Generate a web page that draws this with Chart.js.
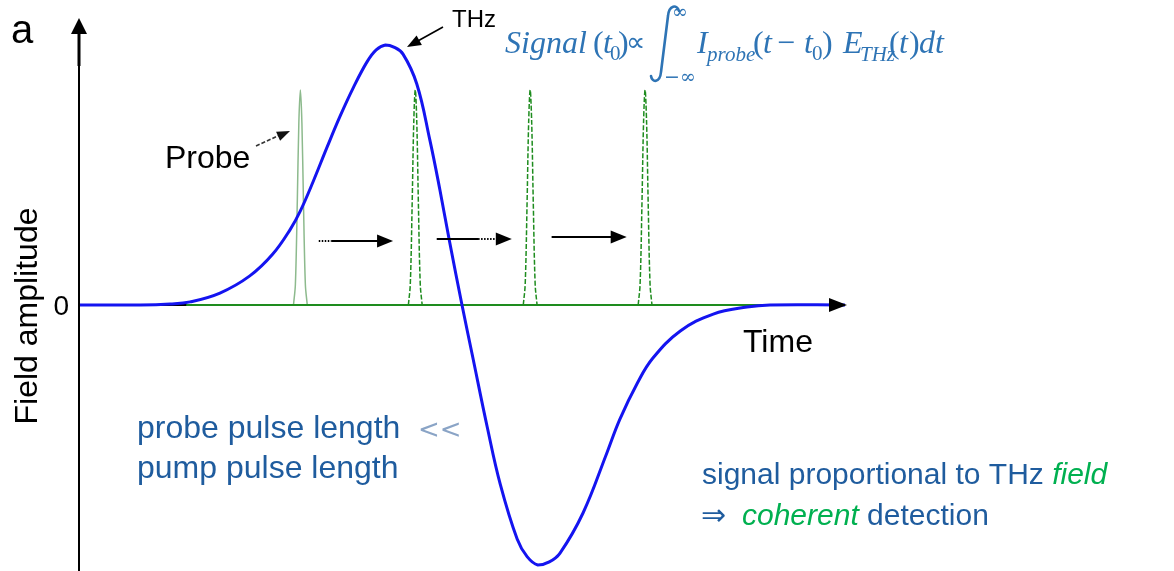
<!DOCTYPE html>
<html>
<head>
<meta charset="utf-8">
<script src="https://cdn.jsdelivr.net/npm/chart.js@4.4.1/dist/chart.umd.min.js"></script>
<style>
html,body{margin:0;padding:0;background:#fff;}
#wrap{width:1174px;height:571px;position:relative;}
</style>
</head>
<body>
<div id="wrap"><canvas id="c" width="1174" height="571"></canvas></div>
<script>
// ---- data (time in arbitrary units, field normalised to THz peak) ----
const thzTime  = [0, 0.80, 1.19, 1.45, 1.84, 2.23, 2.53, 2.76, 2.89, 3.06, 3.24, 3.41, 3.58, 3.76, 3.88, 4.00, 4.11, 4.23, 4.41, 4.58, 4.71, 4.84, 5.00, 5.14, 5.33, 5.50, 5.72, 5.85, 5.99, 6.14, 6.28, 6.58, 6.89, 7.06, 7.29, 7.49, 7.85, 8.28, 8.72, 9.02, 10.0];
const thzField = [0, 0, 0.004, 0.012, 0.046, 0.112, 0.196, 0.292, 0.362, 0.477, 0.608, 0.727, 0.835, 0.935, 0.981, 1.0, 0.992, 0.965, 0.850, 0.635, 0.445, 0.240, 0, -0.20, -0.47, -0.69, -0.90, -0.968, -1.0, -0.988, -0.954, -0.80, -0.57, -0.44, -0.30, -0.205, -0.10, -0.035, -0.008, 0, 0];
const probeCenters = [2.89, 4.39, 5.89, 7.39];
const probeOffsets = [-0.09, -0.065, -0.04, -0.02, 0, 0.02, 0.04, 0.065, 0.09];
const probeShape   = [0, 0.08, 0.40, 0.70, 0.827, 0.70, 0.40, 0.08, 0];
const baselineTime = [1.40, 8.90];
const yTickLabels  = ['0'];
const xAxisLabel = 'Time';
const yAxisLabel = 'Field amplitude';

// ---- build datasets ----
const thzPts = thzTime.map((t, i) => ({x: t, y: thzField[i]}));
const probeSets = probeCenters.map((c, k) => ({
  data: probeOffsets.map((o, i) => ({x: +(c + o).toFixed(3), y: probeShape[i]})),
  borderColor: k === 0 ? '#8dba8d' : '#1e8c1e',
  borderWidth: 1.5,
  borderDash: k === 0 ? [] : [5, 2],
  pointRadius: 0, tension: 0.35, order: 2, clip: false
}));

const datasets = [
  {data: thzPts, borderColor: '#1414f0', borderWidth: 3, pointRadius: 0,
   tension: 0.4, order: 0, clip: false},
  {data: baselineTime.map(t => ({x: t, y: 0})), borderColor: '#1e8c1e', borderWidth: 2,
   pointRadius: 0, order: 1, clip: false},
  ...probeSets
];

function head(ctx, tx, ty, ang, len, hw) {
  ctx.save();
  ctx.translate(tx, ty); ctx.rotate(ang);
  ctx.beginPath(); ctx.moveTo(0, 0); ctx.lineTo(-len, -hw); ctx.lineTo(-len, hw); ctx.closePath();
  ctx.fill(); ctx.restore();
}
function seg(ctx, x1, y1, x2, y2, dash) {
  ctx.save(); ctx.setLineDash(dash || []);
  ctx.beginPath(); ctx.moveTo(x1, y1); ctx.lineTo(x2, y2); ctx.stroke(); ctx.restore();
}

// arrows showing probe delay stepping: [startX, endX, y, dottedFrom, dottedTo]
const shiftArrows = [
  [3.13, 4.10, 0.246, 3.13, 3.30],
  [4.67, 5.65, 0.254, 5.21, 5.46],
  [6.17, 7.15, 0.262, null, null]
];

const annot = {
  id: 'annot',
  beforeDatasetsDraw(chart) {
    const {ctx, scales: {x, y}} = chart;
    const y0 = y.getPixelForValue(0);
    ctx.save(); ctx.strokeStyle = '#000'; ctx.lineWidth = 2;
    seg(ctx, x.getPixelForValue(0), y0, x.right - 14, y0);
    ctx.restore();
  },
  afterDatasetsDraw(chart) {
    const {ctx, scales: {x, y}} = chart;
    const y0 = y.getPixelForValue(0);
    const xl = x.getPixelForValue(0);
    ctx.save();
    ctx.fillStyle = '#000'; ctx.strokeStyle = '#000';
    // y axis with arrow
    ctx.lineWidth = 2;
    seg(ctx, xl, 571, xl, 32);
    ctx.lineWidth = 3;
    seg(ctx, xl, 66, xl, 32);
    head(ctx, xl, 18, -Math.PI / 2, 16, 8);
    // x axis arrow head
    head(ctx, x.right + 2, y0, 0, 18, 7);

    // shift arrows
    shiftArrows.forEach(a => {
      const x1 = x.getPixelForValue(a[0]), x2 = x.getPixelForValue(a[1]), yy = y.getPixelForValue(a[2]);
      ctx.lineWidth = 2;
      if (a[3] !== null) {
        const d1 = x.getPixelForValue(a[3]), d2 = x.getPixelForValue(a[4]);
        if (d1 > x1) seg(ctx, x1, yy, d1, yy);
        seg(ctx, d1, yy, d2, yy, [1.5, 1.5]);
        if (d2 < x2 - 14) seg(ctx, d2, yy, x2 - 14, yy);
      } else {
        seg(ctx, x1, yy, x2 - 14, yy);
      }
      head(ctx, x2, yy, 0, 16, 6.5);
    });

    // THz pointer
    ctx.lineWidth = 1.6;
    seg(ctx, 443, 27, 416, 42);
    head(ctx, 407, 47, Math.atan2(20, -36), 14, 5.5);
    // Probe pointer
    ctx.strokeStyle = '#333'; ctx.fillStyle = '#111';
    seg(ctx, 256, 146, 280, 135, [4, 2]);
    head(ctx, 290, 131, Math.atan2(-15, 34), 13, 5);

    // texts
    ctx.fillStyle = '#000';
    ctx.textBaseline = 'alphabetic';
    ctx.font = '40px "Liberation Sans", Arial, sans-serif';
    ctx.fillText('a', 11, 43);
    ctx.font = '24px "Liberation Sans", Arial, sans-serif';
    ctx.fillText('THz', 452, 27);
    ctx.font = '32px "Liberation Sans", Arial, sans-serif';
    ctx.fillText('Probe', 165, 168);
    ctx.fillText(xAxisLabel, 743, 352);
    ctx.font = '28px "Liberation Sans", Arial, sans-serif';
    ctx.textAlign = 'right';
    ctx.fillText(yTickLabels[0], 69, y0 + 10);
    ctx.textAlign = 'left';
    ctx.save();
    ctx.translate(37, 316); ctx.rotate(-Math.PI / 2);
    ctx.font = '32px "Liberation Sans", Arial, sans-serif';
    ctx.textAlign = 'center';
    ctx.fillText(yAxisLabel, 0, 0);
    ctx.restore();

    // left blue note
    const dark = '#1f5c9e', green = '#00b050';
    ctx.fillStyle = dark;
    ctx.font = '32px "Liberation Sans", Arial, sans-serif';
    ctx.fillText('probe pulse length', 137, 438);
    ctx.fillText('pump pulse length', 137, 478);
    ctx.fillStyle = '#8aa4c6';
    ctx.font = '26px "DejaVu Sans", sans-serif';
    ctx.fillText('<<', 418, 438);

    // right note
    ctx.font = '30px "Liberation Sans", Arial, sans-serif';
    ctx.fillStyle = dark;
    const s1 = 'signal proportional to THz ';
    ctx.fillText(s1, 702, 484);
    const w1 = ctx.measureText(s1).width;
    ctx.fillStyle = green;
    ctx.font = 'italic 30px "Liberation Sans", Arial, sans-serif';
    ctx.fillText('field', 702 + w1, 484);
    ctx.fillStyle = dark;
    ctx.font = '30px "DejaVu Sans", sans-serif';
    ctx.fillText('\u21D2', 701, 525);
    ctx.fillStyle = green;
    ctx.font = 'italic 30px "Liberation Sans", Arial, sans-serif';
    ctx.fillText('coherent', 742, 525);
    const w2 = ctx.measureText('coherent ').width;
    ctx.fillStyle = dark;
    ctx.font = '30px "Liberation Sans", Arial, sans-serif';
    ctx.fillText('detection', 742 + w2, 525);

    // formula
    const fc = '#2e74b5';
    ctx.fillStyle = fc; ctx.strokeStyle = fc;
    const SI = 'italic 32px "Liberation Serif", serif';
    const SR = '32px "Liberation Serif", serif';
    const SUBI = 'italic 21px "Liberation Serif", serif';
    const SUBR = '21px "Liberation Serif", serif';
    const pieces = [
      ['Signal', 505, 53, SI], ['(', 593, 53, SR], ['t', 603, 53, SI], ['0', 610, 60, SUBR], [')', 618, 53, SR],
      ['\u221D', 626, 51, '27px "DejaVu Sans", sans-serif'],
      ['\u221E', 672, 18, '19px "DejaVu Serif", serif'], ['\u2212\u221E', 664, 83, '19px "DejaVu Serif", serif'],
      ['I', 697, 53, SI], ['probe', 707, 61, SUBI],
      ['(', 753, 53, SR], ['t', 763, 53, SI], ['\u2212', 777, 53, SR], ['t', 804, 53, SI], ['0', 812, 60, SUBR], [')', 822, 53, SR],
      ['E', 843, 53, SI], ['THz', 860, 61, SUBI], ['(', 889, 53, SR], ['t', 899, 53, SI], [')', 909, 53, SR], ['dt', 919, 53, SI]
    ];
    pieces.forEach(p => { ctx.font = p[3]; ctx.fillText(p[0], p[1], p[2]); });
    // integral sign
    ctx.lineWidth = 2.6; ctx.lineCap = 'round';
    ctx.beginPath();
    ctx.moveTo(679, 11);
    ctx.bezierCurveTo(677, 4, 669, 5, 668, 16);
    ctx.lineTo(661, 72);
    ctx.bezierCurveTo(660, 83, 652, 83, 651, 76);
    ctx.stroke();
    ctx.restore();
  }
};

new Chart(document.getElementById('c'), {
  type: 'line',
  data: {datasets},
  options: {
    responsive: false, animation: false, devicePixelRatio: 1,
    layout: {padding: {left: 79, right: 329, top: 45, bottom: 6}},
    plugins: {legend: {display: false}, tooltip: {enabled: false}},
    scales: {
      x: {type: 'linear', min: 0, max: 10, display: false},
      y: {min: -1, max: 1, display: false}
    }
  },
  plugins: [annot]
});
</script>
</body>
</html>
